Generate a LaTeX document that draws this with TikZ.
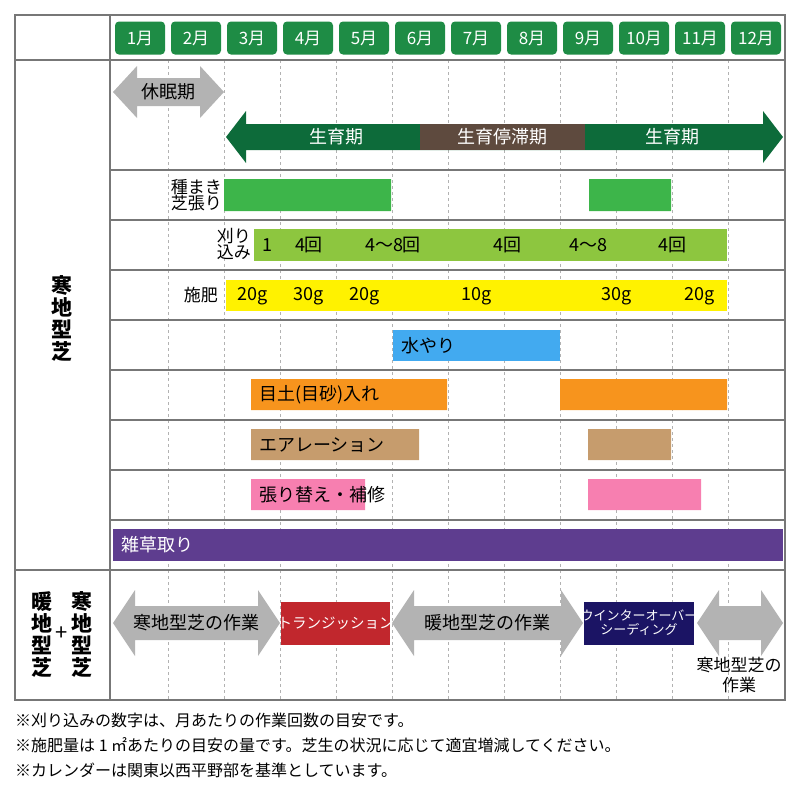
\documentclass[tikz,border=0pt]{standalone}
\usepackage{fontspec}
\setmainfont{Noto Sans CJK JP}
\usetikzlibrary{positioning}
\definecolor{monthgreen}{HTML}{1E8C45}
\definecolor{growdark}{HTML}{0D6B3A}
\definecolor{stopbrown}{HTML}{5E4A3E}
\definecolor{seedgreen}{HTML}{3DB54A}
\definecolor{mowgreen}{HTML}{8DC63F}
\definecolor{fertyellow}{HTML}{FFF200}
\definecolor{waterblue}{HTML}{42AAF0}
\definecolor{soilorange}{HTML}{F7941D}
\definecolor{aertan}{HTML}{C69C6D}
\definecolor{repink}{HTML}{F77FB0}
\definecolor{weedpurple}{HTML}{5E3D8F}
\definecolor{transred}{HTML}{C1272D}
\definecolor{wonavy}{HTML}{1B1464}
\definecolor{arrgray}{HTML}{B3B3B3}
\definecolor{linegray}{HTML}{777777}
% double arrow: x1, x2, y, half shaft, half head, head length
\newcommand{\dblarr}[7]{%
  \fill[#7] (#1,#3) -- (#1+#6,#3-#5) -- (#1+#6,#3-#4) -- (#2-#6,#3-#4)
    -- (#2-#6,#3-#5) -- (#2,#3) -- (#2-#6,#3+#5) -- (#2-#6,#3+#4)
    -- (#1+#6,#3+#4) -- (#1+#6,#3+#5) -- cycle;}
\begin{document}
\begin{tikzpicture}[
    x=1pt, y=-1pt,
    grid/.style = {draw=linegray, line width=1.2pt},
    monthbox/.style = {fill=monthgreen, rounded corners=4pt, text=white,
      minimum width=50pt, minimum height=33pt, font=\fontsize{17}{17}\selectfont},
    bartext/.style = {font=\fontsize{18}{18}\selectfont, inner sep=0pt},
    lbl/.style = {font=\fontsize{17}{16}\selectfont, align=right, inner sep=0pt},
    wtext/.style = {bartext, text=white},
    tall/.style = {bartext, align=center, font=\fontsize{21}{22}\selectfont\bfseries},
    note/.style = {font=\fontsize{16}{16}\selectfont, anchor=west, inner sep=0pt}
    ]
    \useasboundingbox (0,0) rectangle (800,790);
    % dashed month lines
    \foreach \k in {1,...,11}
      \draw[gray!60, dashed, line width=0.8pt] (112+56*\k,60) -- (112+56*\k,700);
    % months
    \foreach \m in {1,...,12}
      \node[monthbox] (m\m) at (84+56*\m,38) {\m 月};
    % dormant and growth
    \dblarr{113}{224}{92}{14}{26}{24}{arrgray}
    \node[bartext] (dorm) at (168,92) {休眠期};
    \dblarr{226}{783}{137}{13}{26}{20}{growdark}
    \fill[stopbrown] (420,124) rectangle (585,150);
    \node[wtext] (grow1) at (336,137) {生育期};
    \node[wtext] (stop) at (502,137) {生育停滞期};
    \node[wtext] (grow2) at (672,137) {生育期};
    % seeding
    \node[lbl, anchor=east] (seed) at (222,195) {種まき\\芝張り};
    \fill[seedgreen] (224,179) rectangle (391,211) (589,179) rectangle (671,211);
    % mowing
    \node[lbl, anchor=east] (mow) at (251,244) {刈り\\込み};
    \fill[mowgreen] (254,229) rectangle (727,261);
    \foreach \xx/\t in {267/1, 309/4回, 393/4〜8回, 507/4回, 588/4〜8, 672/4回}
      \node[bartext] at (\xx,245) {\t};
    % fertilizer
    \node[lbl, anchor=east] (fert) at (218,295) {施肥};
    \fill[fertyellow] (226,280) rectangle (727,311);
    \foreach \xx/\t in {253/20g, 309/30g, 365/20g, 477/10g, 617/30g, 700/20g}
      \node[bartext] at (\xx,296) {\t};
    % watering
    \fill[waterblue] (393,330) rectangle (560,361);
    \node[bartext, anchor=west] (water) at (401,346) {水やり};
    % top dressing
    \fill[soilorange] (251,379) rectangle (447,410) (560,379) rectangle (727,410);
    \node[bartext, anchor=west] (soil) at (259,395) {目土(目砂)入れ};
    % aeration
    \fill[aertan] (251,429) rectangle (419,460) (588,429) rectangle (671,460);
    \node[bartext, anchor=west] (aer) at (259,445) {エアレーション};
    % repair
    \fill[repink] (251,479) rectangle (365,510) (588,479) rectangle (701,510);
    \node[bartext, anchor=west] (rep) at (259,495) {張り替え・補修};
    % weeding
    \fill[weedpurple] (113,529) rectangle (783,561);
    \node[wtext, anchor=west] (weed) at (121,545) {雑草取り};
    % lower section
    \dblarr{113}{280}{623}{17}{33}{22}{arrgray}
    \node[bartext] (cold) at (196,623) {寒地型芝の作業};
    \fill[transred] (281,602) rectangle (390,645);
    \node[wtext, font=\fontsize{14.5}{14.5}\selectfont] (trans) at (335.5,623) {トランジッション};
    \dblarr{392}{583}{623}{17}{33}{22}{arrgray}
    \node[bartext] (warm) at (487,623) {暖地型芝の作業};
    \fill[wonavy] (584,602) rectangle (694,645);
    \node[wtext, align=center, font=\fontsize{13}{14}\selectfont] (wo) at (639,623) {ウインターオーバー\\シーディング};
    \dblarr{697}{783}{623}{17}{33}{22}{arrgray}
    \node[bartext, align=center, font=\fontsize{17}{20}\selectfont] (cold2) at (739,675) {寒地型芝の\\作業};
    % left column
    \node[tall] (kanchi) at (62,318) {寒\\地\\型\\芝};
    \node[tall] (kan2) at (82,634) {寒\\地\\型\\芝};
    \node[tall] (dan2) at (42,634) {暖\\地\\型\\芝};
    \node[bartext, font=\fontsize{22}{22}\selectfont] (plus) at (62,634) {+};
    % grid
    \draw[grid] (15,15) rectangle (785,700);
    \draw[grid] (15,60) -- (785,60) (15,570) -- (785,570) (110,15) -- (110,700);
    \foreach \yy in {170,220,270,320,370,420,470,520}
      \draw[grid] (110,\yy) -- (785,\yy);
    % notes
    \node[note] (n1) at (15,720) {※刈り込みの数字は、月あたりの作業回数の目安です。};
    \node[note] (n2) at (15,745) {※施肥量は 1 ㎡あたりの目安の量です。芝生の状況に応じて適宜増減してください。};
    \node[note] (n3) at (15,770) {※カレンダーは関東以西平野部を基準としています。};
\end{tikzpicture}
\end{document}
